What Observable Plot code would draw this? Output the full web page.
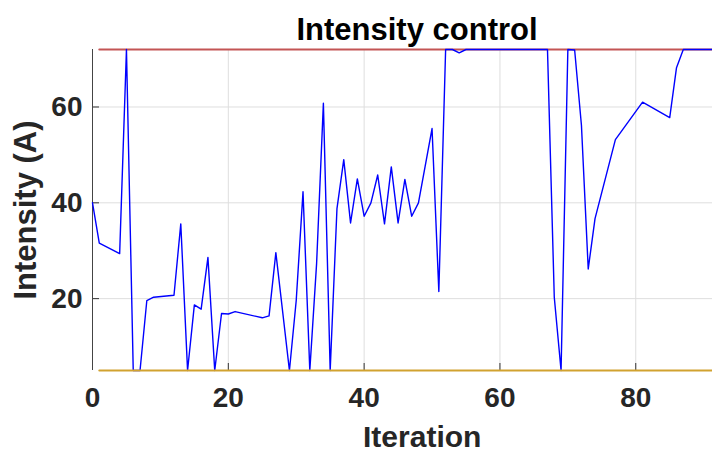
<!DOCTYPE html>
<html><head><meta charset="utf-8">
<script src="https://cdn.jsdelivr.net/npm/d3@7"></script>
<script src="https://cdn.jsdelivr.net/npm/@observablehq/plot@0.6"></script>
<style>body{margin:0;background:#fff;} #chart{width:712px;height:452px;overflow:hidden;}</style>
</head><body><div id="chart"></div>
<script>
const titleText = "Intensity control";
const xLabelText = "Iteration";
const yLabelText = "Intensity (A)";
const iterations = [0,1,4,5,6,7,8,9,12,13,14,15,16,17,18,19,20,21,25,26,27,29,30,31,32,33,34,35,36,37,38,39,40,41,42,43,44,45,46,47,48,50,51,52,53,54,55,67,68,69,70,71,72,73,74,77,81,85,86,87,92];
const intensity = [40,31.6,29.4,72,5,5,19.6,20.3,20.7,35.6,5,18.7,17.8,28.6,5,16.9,16.8,17.3,16.0,16.4,29.6,5,19.6,42.3,5,27.3,60.8,5,38.8,49.0,35.8,45.0,37.2,40.0,45.8,35.6,47.5,35.8,44.9,37.2,40.0,55.5,21.5,72,72,71.3,72,72,20.3,5,72,71.9,56.2,26.2,36.7,53.2,61.0,57.8,68.2,72,72];
const limitIterations = [1, 92];
const maxIntensity = 72;
const minIntensity = 5;
const xDomain = [0, 91.3];
const yDomain = [5, 72];
const xTicks = [0, 20, 40, 60, 80];
const yTicks = [20, 40, 60];

const series = iterations.map((it, i) => ({it, v: intensity[i]}));
const maxLine = limitIterations.map(it => ({it, v: maxIntensity}));
const minLine = limitIterations.map(it => ({it, v: minIntensity}));
const font = "'Liberation Sans', Arial, Helvetica, sans-serif";

const chart = Plot.plot({
  width: 712, height: 452,
  marginLeft: 92, marginRight: 0, marginTop: 49, marginBottom: 82,
  x: {domain: xDomain},
  y: {domain: yDomain},
  style: {fontFamily: font, background: "white"},
  marks: [
    Plot.gridX(xTicks.slice(1), {stroke: "#dedede", strokeOpacity: 1, strokeWidth: 1}),
    Plot.gridY(yTicks, {stroke: "#dedede", strokeOpacity: 1, strokeWidth: 1}),
    Plot.axisX(xTicks, {tickSize: 7, dy: -7, tickFormat: () => "", stroke: "#333", label: null}),
    Plot.axisY(yTicks, {tickSize: 7, dx: 7, tickFormat: () => "", stroke: "#333", label: null}),
    Plot.axisX(xTicks, {tickSize: 0, tickPadding: 17, fontSize: 28, fontWeight: "bold", fill: "#262626", label: null}),
    Plot.axisY(yTicks, {tickSize: 0, tickPadding: 10, fontSize: 28, fontWeight: "bold", fill: "#262626", label: null}),
    Plot.ruleX([xDomain[0]], {stroke: "#444", strokeWidth: 1}),
    Plot.line(maxLine, {x: "it", y: "v", stroke: "#c35555", strokeWidth: 2}),
    Plot.line(series, {x: "it", y: "v", stroke: "#0000ff", strokeWidth: 1.4}),
    Plot.line(minLine, {x: "it", y: "v", stroke: "#d1a230", strokeWidth: 2}),
    Plot.text([titleText], {text: d => d, frameAnchor: "top", lineAnchor: "bottom", dy: -10, dx: 14.5, fontSize: 31, fontWeight: "bold", fill: "black"}),
    Plot.text([xLabelText], {text: d => d, frameAnchor: "bottom", lineAnchor: "bottom", dy: 76.7, dx: 19.7, fontSize: 30, fontWeight: "bold", fill: "#262626"}),
    Plot.text([yLabelText], {text: d => d, frameAnchor: "left", lineAnchor: "middle", textAnchor: "middle", rotate: -90, dx: -66, fontSize: 31, fontWeight: "bold", fill: "#262626"})
  ]
});
document.getElementById("chart").appendChild(chart);
</script>
</body></html>
